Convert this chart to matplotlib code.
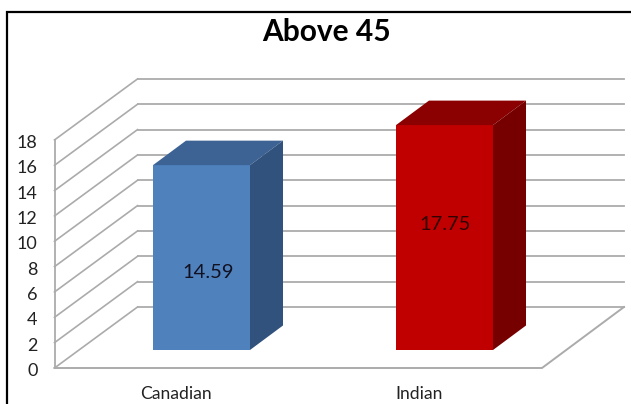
import matplotlib
matplotlib.use("Agg")
import matplotlib.pyplot as plt
from matplotlib.patches import Polygon

categories = ["Canadian", "Indian"]
values = [14.59, 17.75]
y_ticks = [0, 2, 4, 6, 8, 10, 12, 14, 16, 18]

front_colors = ["#4f81bd", "#c00000"]
top_colors = ["#3c6394", "#8b0000"]
side_colors = ["#31527c", "#760000"]

plt.rcParams['font.family'] = ['Lato', 'DejaVu Sans']

W, H = 631, 404
PX_PER_UNIT = 12.67
ZERO_Y = 368.0

fig = plt.figure(figsize=(W / 100, H / 100), dpi=100)
ax = fig.add_axes([0, 0, 1, 1])
ax.set_xlim(0, W)
# y axis is in chart units, x axis is left in pixels for the oblique offsets
ax.set_ylim(-(H - ZERO_Y) / PX_PER_UNIT, ZERO_Y / PX_PER_UNIT)
ax.axis("off")


def unit(px):
    return px / PX_PER_UNIT


def row(y_px):
    return unit(ZERO_Y - y_px)


# outer frame
ax.plot([7, 7, W], [ax.get_ylim()[0], row(11.5), row(11.5)], color="black", lw=1.6,
        solid_joinstyle="miter", zorder=1)

# walls and gridlines
x0, x1 = 54.5, 137.5
x_right = 624
x_floor = 542
depth = unit(61)
grid_color = "#ababab"
for t in y_ticks:
    ax.plot([x0, x1], [t, t + depth], color=grid_color, lw=1.2, zorder=2)
    ax.plot([x1, x_right], [t + depth, t + depth], color=grid_color, lw=1.3, zorder=2)
    ax.text(37.5, t - unit(3), str(t), ha="right", va="center", fontsize=13, color="#222222", zorder=5)
ax.plot([x0, x0], [0, y_ticks[-1]], color=grid_color, lw=1.3, zorder=2)
ax.plot([x0, x_floor, x_right], [0, 0, depth], color=grid_color, lw=1.4, zorder=2)

# bars: front face plus oblique top and side
bar_lefts = [153, 396]
bar_w = 97
bar_dx = 33
bar_dy = unit(24.5)
bar_base = unit(18)
value_x = [208, 445]
value_y = [272.5, 224.5]
value_colors = ["#111122", "#300000"]
cat_x = [176, 419]
for i, v in enumerate(values):
    left = bar_lefts[i]
    right = left + bar_w
    ax.bar(left, v, width=bar_w, bottom=bar_base, align="edge", color=front_colors[i], zorder=3)
    top_y = bar_base + v
    ax.add_patch(Polygon([(left, top_y), (left + bar_dx, top_y + bar_dy),
                          (right + bar_dx, top_y + bar_dy), (right, top_y)],
                         closed=True, fc=top_colors[i], ec="none", zorder=3))
    ax.add_patch(Polygon([(right, bar_base), (right + bar_dx, bar_base + bar_dy),
                          (right + bar_dx, top_y + bar_dy), (right, top_y)],
                         closed=True, fc=side_colors[i], ec="none", zorder=3))
    ax.text(value_x[i], row(value_y[i]), f"{v:.2f}", ha="center", va="center",
            fontsize=14.5, color=value_colors[i], zorder=5)
    ax.text(cat_x[i], row(394), categories[i], ha="center", va="center",
            fontsize=12.6, color="#222222", zorder=5)

ax.text(326, row(32), "Above 45", ha="center", va="center", fontsize=21.5,
        fontweight="bold", color="black", zorder=5)

fig.savefig("out.png", dpi=100)
